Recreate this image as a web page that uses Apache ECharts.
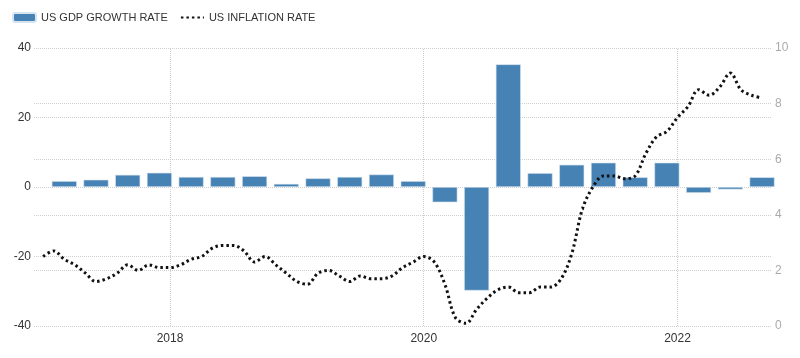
<!DOCTYPE html>
<html>
<head>
<meta charset="utf-8">
<script src="https://cdn.jsdelivr.net/npm/echarts@6/dist/echarts.min.js"></script>
<style>
html,body{margin:0;padding:0;background:#fff;}
#chart{width:800px;height:358px;}
</style>
</head>
<body>
<div id="chart"></div>
<script>
// Quarterly US GDP growth (annualized %, QoQ)
const quarters = ['2017Q1','2017Q2','2017Q3','2017Q4','2018Q1','2018Q2','2018Q3','2018Q4',
  '2019Q1','2019Q2','2019Q3','2019Q4','2020Q1','2020Q2','2020Q3','2020Q4',
  '2021Q1','2021Q2','2021Q3','2021Q4','2022Q1','2022Q2','2022Q3'];
const gdpGrowth = [1.7, 2.1, 3.5, 4.1, 2.9, 2.9, 3.1, 0.9,
  2.5, 2.9, 3.6, 1.7, -4.4, -29.8, 35.3, 4.0,
  6.4, 7.0, 2.8, 7.0, -1.7, -0.7, 2.8];

// Monthly US inflation rate (YoY %)
const months = ['2017-01','2017-02','2017-03','2017-04','2017-05','2017-06','2017-07','2017-08','2017-09','2017-10','2017-11','2017-12',
  '2018-01','2018-02','2018-03','2018-04','2018-05','2018-06','2018-07','2018-08','2018-09','2018-10','2018-11','2018-12',
  '2019-01','2019-02','2019-03','2019-04','2019-05','2019-06','2019-07','2019-08','2019-09','2019-10','2019-11','2019-12',
  '2020-01','2020-02','2020-03','2020-04','2020-05','2020-06','2020-07','2020-08','2020-09','2020-10','2020-11','2020-12',
  '2021-01','2021-02','2021-03','2021-04','2021-05','2021-06','2021-07','2021-08','2021-09','2021-10','2021-11','2021-12',
  '2022-01','2022-02','2022-03','2022-04','2022-05','2022-06','2022-07','2022-08','2022-09'];
const inflation = [2.5, 2.7, 2.4, 2.2, 1.9, 1.6, 1.7, 1.9, 2.2, 2.0, 2.2, 2.1,
  2.1, 2.2, 2.4, 2.5, 2.8, 2.9, 2.9, 2.7, 2.3, 2.5, 2.2, 1.9,
  1.6, 1.5, 1.9, 2.0, 1.8, 1.6, 1.8, 1.7, 1.7, 1.8, 2.1, 2.3,
  2.5, 2.3, 1.5, 0.3, 0.1, 0.6, 1.0, 1.3, 1.4, 1.2, 1.2, 1.4,
  1.4, 1.7, 2.6, 4.2, 5.0, 5.4, 5.4, 5.3, 5.4, 6.2, 6.8, 7.0,
  7.5, 7.9, 8.5, 8.3, 8.6, 9.1, 8.5, 8.3, 8.2];

const yearTicks = [2018, 2020, 2022];
const gdpTicks = [-40, -20, 0, 20, 40];
const inflTicks = [0, 2, 4, 6, 8, 10];

// convert labels to decimal-year positions
function quarterPos(q) {
  const y = parseInt(q.slice(0, 4), 10);
  const n = parseInt(q.slice(5), 10);
  return y + (3 * n - 1) / 12;
}
function monthPos(m) {
  const y = parseInt(m.slice(0, 4), 10);
  const mo = parseInt(m.slice(5), 10);
  return y + (mo - 1) / 12;
}
const barData = quarters.map((q, i) => [quarterPos(q), gdpGrowth[i]]);
const lineData = months.map((m, i) => [monthPos(m), inflation[i]]);

const gridColor = '#cfcfcf';
const chart = echarts.init(document.getElementById('chart'), null, {renderer: 'canvas'});
chart.setOption({
  animation: false,
  backgroundColor: '#fff',
  textStyle: {fontFamily: 'Liberation Sans, Arial, sans-serif'},
  legend: {
    left: 7, top: 7,
    itemWidth: 23, itemHeight: 9, itemGap: 12,
    textStyle: {fontSize: 11, color: '#333', fontFamily: 'Liberation Sans, Arial, sans-serif'},
    data: [
      {name: 'US GDP GROWTH RATE'},
      {name: 'US INFLATION RATE', itemStyle: {opacity: 0}}
    ]
  },
  grid: {left: 34, right: 28, top: 48, bottom: 32, containLabel: false},
  xAxis: {
    type: 'value',
    min: 2016.928, max: 2022.745,
    axisLine: {show: false},
    axisTick: {show: false},
    splitLine: {show: false},
    axisLabel: {
      customValues: yearTicks,
      formatter: v => String(v),
      color: '#333', fontSize: 12, margin: 7
    }
  },
  yAxis: [
    {
      type: 'value', position: 'left',
      min: gdpTicks[0], max: gdpTicks[gdpTicks.length - 1], interval: 20,
      axisLine: {show: false}, axisTick: {show: false},
      axisLabel: {color: '#333', fontSize: 12, margin: 3},
      splitLine: {lineStyle: {color: gridColor, type: 'dotted', width: 1}}
    },
    {
      type: 'value', position: 'right',
      min: inflTicks[0], max: inflTicks[inflTicks.length - 1], interval: 2,
      axisLine: {show: false}, axisTick: {show: false},
      axisLabel: {color: '#aaa', fontSize: 12, margin: 3},
      splitLine: {lineStyle: {color: gridColor, type: 'dotted', width: 1}}
    }
  ],
  series: [
    {
      name: 'US GDP GROWTH RATE',
      type: 'bar',
      yAxisIndex: 0,
      barWidth: 25,
      itemStyle: {color: '#4682B4', borderColor: '#d6e4f0', borderWidth: 0.6},
      data: barData,
      z: 2,
      markLine: {
        silent: true,
        symbol: 'none',
        label: {show: false},
        lineStyle: {color: gridColor, type: 'dotted', width: 1},
        data: yearTicks.map(y => ({xAxis: y})),
        z: 1
      }
    },
    {
      name: 'US INFLATION RATE',
      type: 'line',
      yAxisIndex: 1,
      smooth: 0.35,
      showSymbol: false,
      symbol: 'none',
      lineStyle: {color: '#111', width: 3, type: [2.5, 3]},
      itemStyle: {color: '#111'},
      data: lineData,
      z: 3
    }
  ]
});
</script>
</body>
</html>
